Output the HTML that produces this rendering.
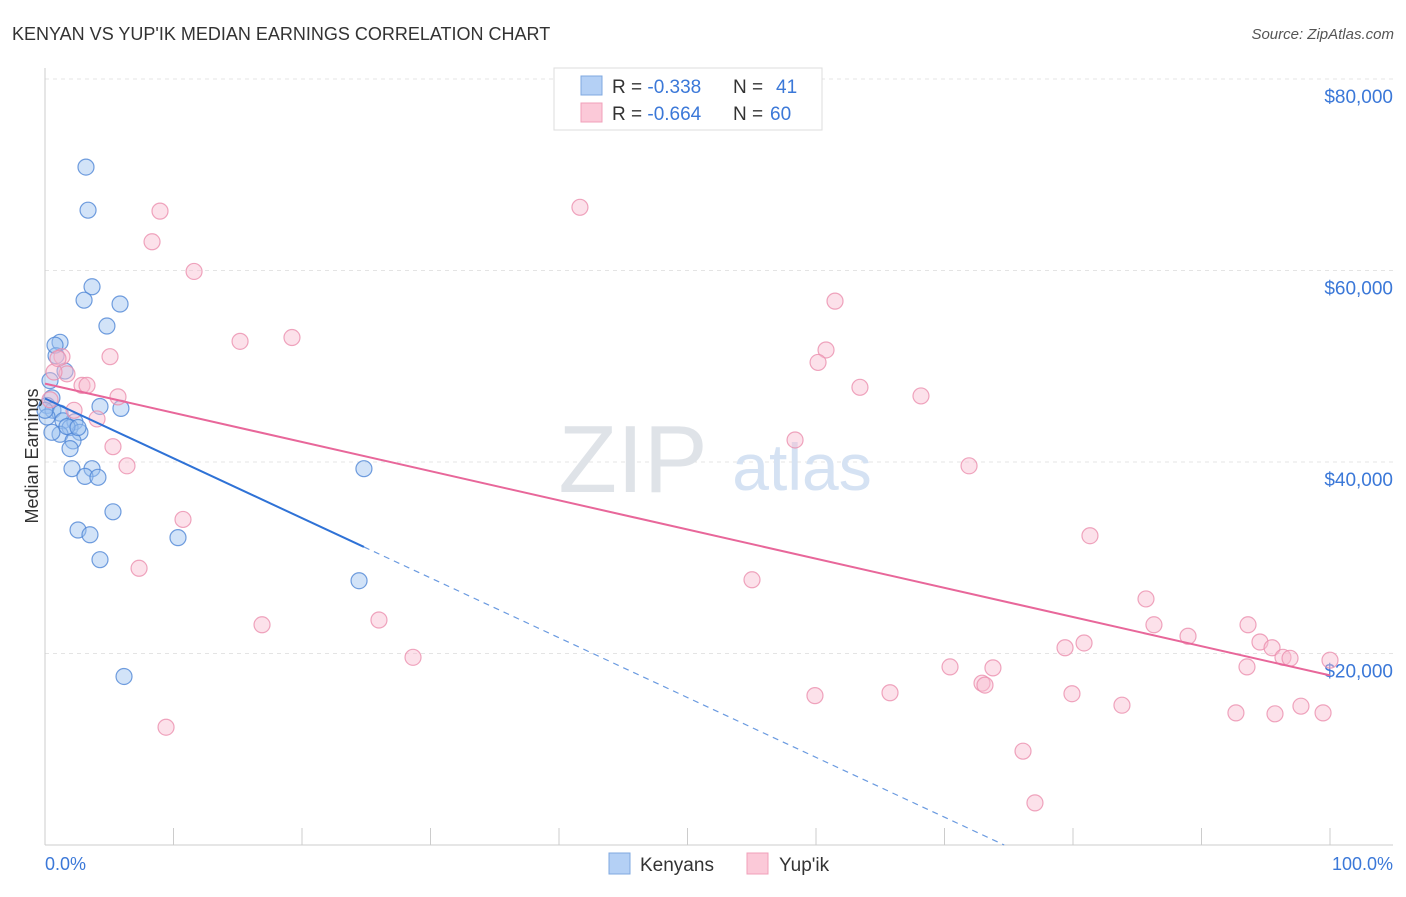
<!DOCTYPE html>
<html><head><meta charset="utf-8"><style>
body{margin:0;background:#fff;font-family:"Liberation Sans",sans-serif}
svg text{font-family:"Liberation Sans",sans-serif}
</style></head><body>
<svg width="1406" height="892" xmlns="http://www.w3.org/2000/svg">
<text x="12" y="40" font-size="18" fill="#333">KENYAN VS YUP'IK MEDIAN EARNINGS CORRELATION CHART</text>
<text x="1394" y="39" font-size="15" fill="#555" text-anchor="end" font-style="italic">Source: ZipAtlas.com</text>
<g id="grid"></g>
<text x="633" y="492" font-size="96" fill="#dfe3e8" font-family="Liberation Serif" text-anchor="middle">ZIP</text>
<text x="802" y="490" font-size="66" fill="#d5e2f3" text-anchor="middle">atlas</text>
<g id="plot"></g>
<text x="38" y="456" font-size="18" fill="#333" text-anchor="middle" transform="rotate(-90 38 456)">Median Earnings</text>
<text x="45" y="870" font-size="18" fill="#3b78d8">0.0%</text>
<text x="1393" y="870" font-size="18" fill="#3b78d8" text-anchor="end">100.0%</text>
<g>
<rect x="554" y="68" width="268" height="62" fill="#fff" stroke="#ddd"/>
<rect x="581" y="76" width="21" height="19" fill="#b4d0f5" stroke="#7fa8e0"/>
<rect x="581" y="103" width="21" height="19" fill="#fbc9d8" stroke="#f0a0ba"/>
<text x="612" y="93" font-size="19" fill="#333">R = <tspan fill="#3b78d8">-0.338</tspan><tspan x="733">N = </tspan><tspan fill="#3b78d8" x="776">41</tspan></text>
<text x="612" y="120" font-size="19" fill="#333">R = <tspan fill="#3b78d8">-0.664</tspan><tspan x="733">N = </tspan><tspan fill="#3b78d8" x="770">60</tspan></text>
</g>
<g>
<rect x="609" y="853" width="21" height="21" fill="#b4d0f5" stroke="#7fa8e0"/>
<text x="640" y="871" font-size="19" fill="#333">Kenyans</text>
<rect x="747" y="853" width="21" height="21" fill="#fbc9d8" stroke="#f0a0ba"/>
<text x="779" y="871" font-size="19" fill="#333">Yup'ik</text>
</g>
</svg>
<script>
const yTicks=[20000,40000,60000,80000];
const yTickLabels=["$20,000","$40,000","$60,000","$80,000"];
const xTicks=[0,10,20,30,40,50,60,70,80,90,100];
const kenyanX=[3.19,3.35,3.66,3.04,5.84,4.82,1.17,0.86,1.56,0.39,0.54,0.16,0.62,1.17,0.16,5.91,4.28,1.40,2.33,1.95,2.72,1.17,2.18,1.95,3.66,2.10,3.11,4.12,5.29,2.57,3.50,4.28,10.35,24.82,24.44,6.15,0.78,1.71,2.57,0,0.54];
const kenyanY=[70.8,66.3,58.3,56.9,56.5,54.2,52.5,51.1,49.5,48.5,46.7,45.9,45.4,45.1,44.7,45.6,45.8,44.3,44.2,43.6,43.1,42.9,42.2,41.4,39.3,39.3,38.5,38.4,34.8,32.9,32.4,29.8,32.1,39.3,27.6,17.6,52.2,43.7,43.6,45.4,43.1];
const yupikX=[8.95,8.33,11.60,41.63,15.18,19.22,5.06,1.32,1.71,2.88,3.27,5.68,2.26,4.05,5.29,6.38,10.74,7.32,16.89,25.99,28.64,9.42,61.48,60.78,60.16,63.42,68.17,58.37,71.91,55.02,81.32,85.68,86.30,88.95,93.62,94.55,95.49,96.34,96.89,100,70.43,73.77,72.92,73.15,79.38,80.86,93.54,59.92,65.76,79.92,83.81,92.68,95.72,97.74,99.46,76.11,77.04,0.70,0.39,1.01];
const yupikY=[66.2,63.0,59.9,66.6,52.6,53.0,51.0,51.0,49.2,48.0,48.0,46.8,45.4,44.5,41.6,39.6,34.0,28.9,23.0,23.5,19.6,12.3,56.8,51.7,50.4,47.8,46.9,42.3,39.6,27.7,32.3,25.7,23.0,21.8,23.0,21.2,20.6,19.6,19.5,19.3,18.6,18.5,16.9,16.7,20.6,21.1,18.6,15.6,15.9,15.8,14.6,13.8,13.7,14.5,13.8,9.8,4.4,49.4,46.5,50.8];
const NS="http://www.w3.org/2000/svg";
const X=p=>45+p*12.85;
const Y=v=>845-v/20000*191.5;
const Yk=v=>Y(v*1000);
function mk(t,a,parent){const e=document.createElementNS(NS,t);for(const k in a)e.setAttribute(k,a[k]);parent.appendChild(e);return e;}
const grid=document.getElementById('grid'),plot=document.getElementById('plot');
yTicks.forEach((v,i)=>{
 const l=mk('line',{x1:45,x2:1393,y1:Y(v),y2:Y(v),stroke:'#e4e4e4','stroke-dasharray':'4,4'},grid);
 
 
 const t=mk('text',{x:1393,y:Y(v)+24,'font-size':19,fill:'#3b78d8','text-anchor':'end'},grid);
 t.textContent=yTickLabels[i];
 
 
});
const ax=mk('line',{x1:45,x2:45,y1:68,y2:845,stroke:'#ccc'},grid);


const bx=mk('line',{x1:45,x2:1393,y1:845,y2:845,stroke:'#ccc'},grid);


xTicks.forEach(p=>{
 const t=mk('line',{x1:X(p),x2:X(p),y1:828,y2:845,stroke:'#ccc'},grid);
 
 
});
function dots(xs,ys,fill,stroke,name){
 xs.forEach((x,i)=>{
  const c=mk('circle',{cx:X(x),cy:Yk(ys[i]),r:8,fill:fill,'fill-opacity':0.45,stroke:stroke,'stroke-opacity':0.8,'stroke-width':1.2},plot);
  
  
 });
}
function fit(xs,ys){const n=xs.length;let mx=0,my=0;xs.forEach((x,i)=>{mx+=x;my+=ys[i]});mx/=n;my/=n;let sxy=0,sxx=0;xs.forEach((x,i)=>{sxy+=(x-mx)*(ys[i]-my);sxx+=(x-mx)*(x-mx)});const b=sxy/sxx;return [my-b*mx,b];}
dots(kenyanX,kenyanY,'#9cc0ef','#4f86d6','kenyan-point');
dots(yupikX,yupikY,'#f9bcd0','#eb8eae','yupik-point');
const [ka,kb]=fit(kenyanX,kenyanY);
const kmax=Math.max(...kenyanX);
const kl=mk('line',{x1:X(0),y1:Yk(ka),x2:X(kmax),y2:Yk(ka+kb*kmax),stroke:'#2f72d6','stroke-width':2},plot);


const xz=kb<0?Math.min(-ka/kb,100):100;
const kd=mk('line',{x1:X(kmax),y1:Yk(ka+kb*kmax),x2:X(xz),y2:Yk(ka+kb*xz),stroke:'#6a9ae0','stroke-width':1.2,'stroke-dasharray':'6,5'},plot);


const [ya,yb]=fit(yupikX,yupikY);
const yl=mk('line',{x1:X(0),y1:Yk(ya),x2:X(100),y2:Yk(ya+yb*100),stroke:'#e8679a','stroke-width':2},plot);


</script>
</body></html>
